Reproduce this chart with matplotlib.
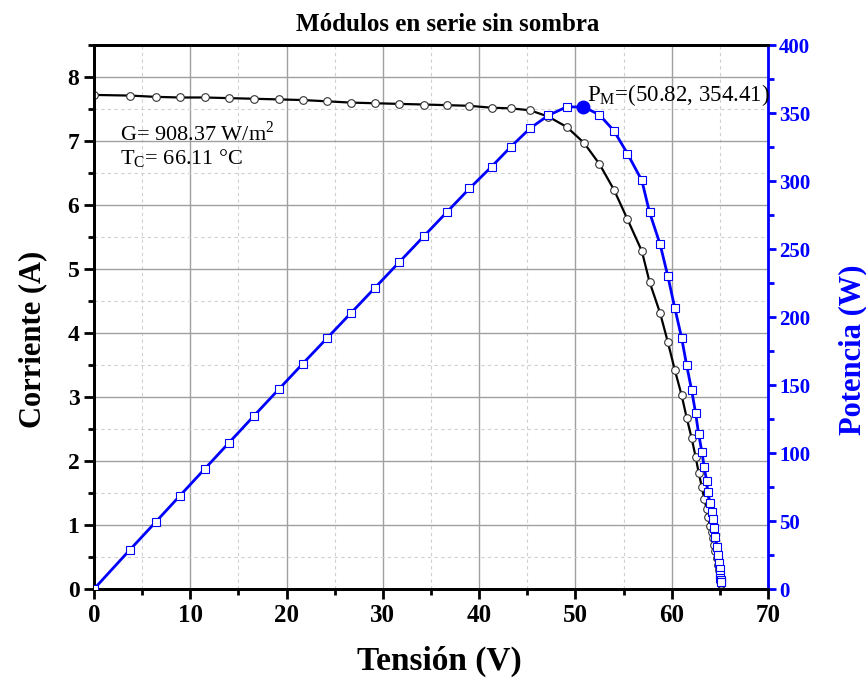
import numpy as np
import matplotlib
matplotlib.use("Agg")
import matplotlib.pyplot as plt
from matplotlib.ticker import MultipleLocator

plt.rcParams['font.family'] = ['Liberation Serif', 'DejaVu Serif']
plt.rcParams['mathtext.fontset'] = 'custom'
plt.rcParams['mathtext.rm'] = 'Liberation Serif'

# curva I-V y P-V
tension = [0.0, 3.7, 6.4, 8.9, 11.5, 14.0, 16.6, 19.2, 21.7, 24.2, 26.7, 29.2,
           31.7, 34.3, 36.7, 39.0, 41.3, 43.3, 45.3, 47.2, 49.1, 50.9, 52.5,
           54.0, 55.4, 56.9, 57.7, 58.8, 59.6, 60.33, 61.03, 61.55, 62.07,
           62.48, 62.80, 63.14, 63.38, 63.63, 63.76, 63.97, 64.14, 64.24,
           64.38, 64.51, 64.66, 64.76, 64.90, 64.97, 65.03, 65.07, 65.10,
           65.12, 65.14]
corriente = [7.72, 7.71, 7.69, 7.68, 7.68, 7.67, 7.66, 7.65, 7.64, 7.62, 7.60,
             7.59, 7.58, 7.57, 7.56, 7.55, 7.52, 7.51, 7.48, 7.38, 7.22, 6.97,
             6.64, 6.24, 5.78, 5.28, 4.80, 4.31, 3.86, 3.42, 3.03, 2.68, 2.36,
             2.07, 1.82, 1.59, 1.41, 1.25, 1.12, 0.99, 0.89, 0.80, 0.69, 0.60,
             0.48, 0.38, 0.29, 0.22, 0.16, 0.12, 0.10, 0.085, 0.077]
potencia = [0.0, 28.6, 49.2, 68.4, 88.3, 107.4, 127.2, 146.9, 165.8, 184.4,
            203.0, 221.6, 240.3, 259.7, 277.5, 294.5, 310.6, 325.2, 338.8,
            348.3, 354.5, 354.4, 348.6, 337.0, 320.2, 300.4, 277.0, 253.4,
            230.1, 206.4, 184.8, 164.7, 146.3, 129.6, 114.0, 100.7, 89.5, 79.4,
            71.1, 63.5, 56.8, 51.2, 44.6, 38.4, 31.1, 24.8, 18.9, 14.5, 10.3,
            7.9, 6.5, 5.5, 5.0]

v_max, p_max = 50.82, 354.41
irradiancia, t_celda = 908.37, 66.11

AZUL = '#0000ff'

fig = plt.figure(figsize=(8.66, 6.85), dpi=100)
ax = fig.add_axes([0.1085, 0.1401, 0.7783, 0.7942])
ax2 = ax.twinx()

ax.plot(tension, corriente, color='black', lw=1.6, marker='o', ms=5.5,
        mfc='white', mec='#333333', mew=0.8, zorder=3)
ax2.plot(tension, potencia, color=AZUL, lw=2.0, marker='s', ms=5.5,
         mfc='white', mec=AZUL, mew=0.8, zorder=3)
ax2.plot([v_max], [p_max], 'o', color=AZUL, ms=9, zorder=4)

ax.set_xlim(0, 70)
ax.set_ylim(0, 8.5)
ax2.set_ylim(0, 400)

ax.xaxis.set_major_locator(MultipleLocator(10))
ax.xaxis.set_minor_locator(MultipleLocator(5))
ax.yaxis.set_major_locator(MultipleLocator(1))
ax.yaxis.set_minor_locator(MultipleLocator(0.5))
ax2.yaxis.set_major_locator(MultipleLocator(50))
ax2.yaxis.set_minor_locator(MultipleLocator(25))

ax.grid(which='major', color='#a0a0a0', lw=1.0, ls='-')
ax.grid(which='minor', color='#d0d0d0', lw=0.8, ls=(0, (3, 3)))
ax.set_axisbelow(True)

for s in ['left', 'bottom', 'top']:
    ax.spines[s].set_linewidth(2.0)
    ax2.spines[s].set_linewidth(2.0)
ax2.spines['right'].set_color(AZUL)
ax2.spines['right'].set_linewidth(2.0)

ax.tick_params(axis='x', which='major', direction='out', length=7, width=2,
               labelsize=18)
ax.tick_params(axis='y', which='major', direction='out', length=7, width=2,
               labelsize=17)
ax.tick_params(which='minor', direction='out', length=4, width=2)
ax2.tick_params(which='major', direction='out', length=6, width=2, colors=AZUL,
                labelsize=15, pad=2)
ax2.tick_params(which='minor', direction='out', length=4, width=2, colors=AZUL)
for lab in ax.get_xticklabels() + ax.get_yticklabels() + ax2.get_yticklabels():
    lab.set_fontweight('bold')

ax.set_xlabel('Tensión (V)', fontsize=24, fontweight='bold')
ax.set_ylabel('Corriente (A)', fontsize=22, fontweight='bold')
ax2.set_ylabel('Potencia (W)', fontsize=22, fontweight='bold', color=AZUL)
ax.xaxis.set_label_coords(0.513, -0.105)
ax.yaxis.set_label_coords(-0.070, 0.458)
ax2.yaxis.set_label_coords(1.104, 0.44)
ax.set_title('Módulos en serie sin sombra', fontsize=18, fontweight='bold',
             x=0.525, pad=10)

ax.text(2.7, 7.11, f'G= {irradiancia} W/m$^2$', fontsize=16, va='center')
ax.text(2.7, 6.72, f'T$_\\mathrm{{C}}$= {t_celda} °C', fontsize=16, va='center')
ax2.text(v_max + 0.4, 363, f'P$_\\mathrm{{M}}$=({v_max}, {p_max})', fontsize=16.5,
         va='center')

fig.savefig('out.png', dpi=100)
